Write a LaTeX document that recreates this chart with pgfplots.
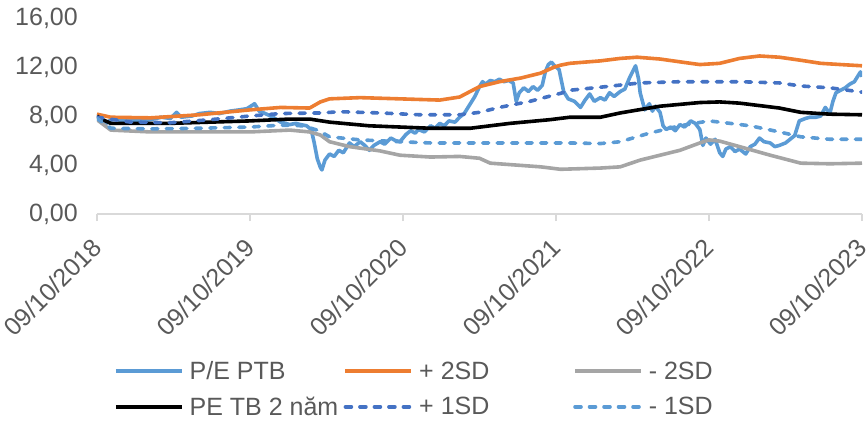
\documentclass[border=0pt]{standalone}
\usepackage{fontspec}
\setmainfont{Liberation Sans}
\usepackage{pgfplots}
\pgfplotsset{compat=1.18}
\definecolor{peblue}{HTML}{5B9BD5}
\definecolor{sdorange}{HTML}{ED7D31}
\definecolor{sdgray}{HTML}{A5A5A5}
\definecolor{sddark}{HTML}{4472C4}
\definecolor{txtgray}{HTML}{595959}
\definecolor{axgray}{HTML}{D9D9D9}
\begin{document}
\begin{tikzpicture}
\begin{axis}[
  name=ax,
  scale only axis,
  width=765pt, height=196pt,
  xmin=0, xmax=5, ymin=0, ymax=16,
  xtick={0,1,2,3,4,5},
  xticklabels={09/10/2018,09/10/2019,09/10/2020,09/10/2021,09/10/2022,09/10/2023},
  ytick={0,4,8,12,16},
  axis x line*=bottom, axis y line*=left,
  y axis line style={draw=none},
  x axis line style={draw=axgray, line width=1.3pt},
  ytick style={draw=none},
  xtick style={draw=axgray, line width=1.3pt},
  tick align=outside, major tick length=7pt,
  /pgf/number format/.cd, fixed, fixed zerofill, precision=2, use comma, assume math mode=true,
  /pgfplots/.cd,
  tick label style={font=\fontsize{25}{29}\selectfont, text=txtgray},
  yticklabel style={inner sep=0pt, xshift=-12pt},
  xticklabel style={rotate=45, anchor=east, inner sep=0pt, xshift=-15.5pt, yshift=-15.5pt},
  legend columns=3,
  legend cell align=left,
  legend image code/.code={\draw[#1] (0pt,0pt) -- (66pt,0pt);},
  legend style={draw=none, fill=none, at={(0.022,-0.74)}, anchor=north west,
    font=\fontsize{25}{29}\selectfont, text=txtgray,
    /tikz/every odd column/.append style={column sep=4pt},
    /tikz/row sep=12pt, inner sep=0pt},
  every axis plot/.append style={line width=3.6pt, line join=round},
]
% P/E PTB
\addplot[peblue] coordinates {
(0.00,8.2)(0.02,7.6)(0.05,7.3)(0.08,7.6)(0.12,7.8)(0.16,7.6)(0.22,7.7)(0.28,7.6)
(0.35,7.7)(0.42,7.9)(0.48,7.8)(0.52,8.3)(0.55,7.9)(0.62,8.0)(0.67,8.2)(0.74,8.3)
(0.80,8.2)(0.87,8.4)(0.93,8.5)(0.98,8.6)(1.03,9.0)(1.06,8.4)(1.10,8.2)(1.15,7.9)
(1.20,7.5)(1.26,7.3)(1.30,7.4)(1.33,7.3)(1.37,7.2)(1.40,6.9)(1.42,5.8)(1.44,4.5)
(1.46,3.8)(1.47,3.6)(1.49,4.4)(1.52,4.9)(1.55,4.7)(1.58,5.2)(1.61,5.0)(1.65,5.8)
(1.68,5.5)(1.72,5.9)(1.75,5.6)(1.78,5.2)(1.81,5.6)(1.85,5.9)(1.88,5.7)(1.92,6.2)
(1.95,6.0)(1.98,5.9)(2.02,6.5)(2.05,6.8)(2.08,6.6)(2.10,6.9)(2.14,6.7)(2.18,7.2)
(2.21,7.0)(2.24,7.4)(2.27,7.2)(2.30,7.6)(2.34,7.5)(2.37,7.9)(2.40,8.2)(2.42,8.6)
(2.45,9.2)(2.47,9.6)(2.50,10.4)(2.52,10.8)(2.54,10.6)(2.57,10.9)(2.60,10.8)(2.63,11.0)
(2.66,10.8)(2.69,10.9)(2.72,10.7)(2.74,9.2)(2.76,9.9)(2.79,10.3)(2.82,10.0)(2.85,10.4)
(2.88,10.1)(2.91,10.5)(2.93,11.6)(2.95,12.2)(2.97,12.4)(2.99,12.1)(3.02,11.8)(3.05,10.0)
(3.08,9.4)(3.12,9.2)(3.16,8.7)(3.19,9.3)(3.22,9.8)(3.25,9.2)(3.29,9.5)(3.32,9.3)
(3.35,9.9)(3.38,9.6)(3.42,10.0)(3.45,10.2)(3.48,11.1)(3.50,11.6)(3.52,12.1)(3.54,11.0)
(3.55,9.9)(3.58,8.5)(3.61,9.0)(3.63,8.4)(3.65,8.8)(3.68,8.3)(3.70,7.2)(3.72,6.9)
(3.75,7.1)(3.78,6.8)(3.81,7.3)(3.84,7.1)(3.88,7.6)(3.91,7.4)(3.94,6.9)(3.96,5.6)
(3.98,6.2)(4.01,5.7)(4.04,6.1)(4.07,5.0)(4.09,4.7)(4.11,5.3)(4.14,5.5)(4.17,5.1)
(4.20,5.3)(4.24,4.9)(4.27,5.5)(4.30,5.7)(4.33,6.2)(4.36,5.9)(4.40,5.8)(4.43,5.5)
(4.46,5.6)(4.50,5.8)(4.53,6.1)(4.56,6.4)(4.59,7.6)(4.63,7.8)(4.66,7.9)(4.70,7.9)
(4.73,8.0)(4.76,8.7)(4.79,8.2)(4.81,9.2)(4.83,9.9)(4.86,10.1)(4.89,10.3)(4.92,10.6)
(4.95,10.8)(4.97,11.2)(4.99,11.6)(5.00,11.2)
};
\addlegendentry{\makebox[152pt][l]{P/E PTB}}
% +2SD
\addplot[sdorange] coordinates {
(0.00,8.15)(0.09,7.9)(0.35,7.85)(0.67,8.1)(1.00,8.5)(1.20,8.7)(1.39,8.65)(1.46,9.15)
(1.52,9.4)(1.72,9.5)(1.98,9.4)(2.24,9.3)(2.37,9.55)(2.50,10.4)(2.63,10.8)(2.77,11.1)
(2.90,11.5)(2.99,12.0)(3.03,12.15)(3.09,12.3)(3.29,12.5)(3.42,12.7)(3.53,12.8)(3.68,12.65)
(3.88,12.3)(3.94,12.2)(4.07,12.3)(4.20,12.7)(4.33,12.9)(4.46,12.8)(4.60,12.55)(4.73,12.3)
(4.86,12.2)(5.00,12.1)
};
\addlegendentry{\makebox[152pt][l]{+ 2SD}}
% -2SD
\addplot[sdgray] coordinates {
(0.00,7.7)(0.09,6.85)(0.35,6.7)(1.00,6.7)(1.26,6.85)(1.39,6.7)(1.46,6.45)(1.52,5.9)
(1.65,5.5)(1.85,5.15)(1.98,4.8)(2.18,4.65)(2.37,4.7)(2.50,4.55)(2.57,4.15)(2.90,3.85)
(3.03,3.65)(3.29,3.75)(3.42,3.85)(3.55,4.4)(3.81,5.2)(3.94,5.8)(4.00,6.05)(4.07,5.95)
(4.20,5.5)(4.40,4.8)(4.60,4.15)(4.79,4.1)(5.00,4.15)
};
\addlegendentry{\makebox[152pt][l]{- 2SD}}
% PE TB 2 nam
\addplot[black] coordinates {
(0.00,8.0)(0.02,7.8)(0.09,7.4)(0.48,7.4)(0.74,7.5)(1.00,7.6)(1.26,7.75)(1.39,7.75)
(1.52,7.5)(1.78,7.2)(1.98,7.1)(2.18,7.0)(2.44,7.0)(2.70,7.4)(2.96,7.7)(3.09,7.9)
(3.29,7.9)(3.42,8.25)(3.68,8.8)(3.94,9.1)(4.07,9.15)(4.20,9.05)(4.46,8.65)(4.60,8.3)
(4.79,8.15)(5.00,8.1)
};
\addlegendentry{\makebox[152pt][l]{PE TB 2 năm}}
% +1SD
\addplot[sddark, dash pattern=on 6pt off 8.5pt, line cap=round] coordinates {
(0.00,7.9)(0.22,7.5)(0.48,7.45)(0.74,7.7)(1.00,8.0)(1.20,8.2)(1.46,8.25)(1.59,8.35)
(1.85,8.25)(2.11,8.1)(2.37,8.1)(2.50,8.3)(2.63,8.7)(2.83,9.2)(3.03,9.85)(3.09,10.1)
(3.29,10.35)(3.55,10.7)(3.81,10.8)(4.07,10.8)(4.20,10.8)(4.46,10.7)(4.60,10.45)(4.79,10.3)
(5.00,9.95)
};
\addlegendentry{\makebox[152pt][l]{+ 1SD}}
% -1SD
\addplot[peblue, dash pattern=on 6pt off 8.5pt, line cap=round] coordinates {
(0.00,7.8)(0.09,7.0)(0.35,6.95)(0.67,7.0)(1.00,7.1)(1.20,7.25)(1.35,7.2)(1.45,6.8)
(1.52,6.3)(1.72,6.05)(1.98,5.9)(2.18,5.8)(3.09,5.8)(3.29,5.75)(3.42,5.9)(3.61,6.6)
(3.81,7.2)(4.00,7.6)(4.07,7.5)(4.27,7.2)(4.46,6.7)(4.60,6.3)(4.79,6.1)(5.00,6.1)
};
\addlegendentry{\makebox[152pt][l]{- 1SD}}
\end{axis}
\pgfresetboundingbox
\path[use as bounding box] ([shift={(-97pt,-207pt)}]ax.south west) rectangle ([shift={(771pt,214pt)}]ax.south west);
\end{tikzpicture}
\end{document}
